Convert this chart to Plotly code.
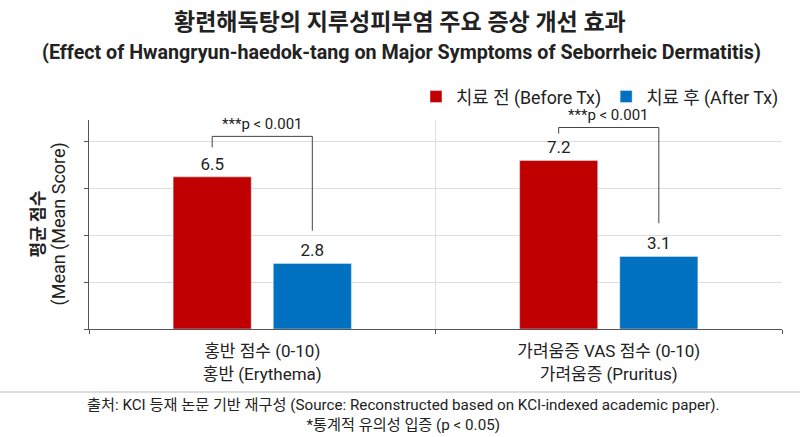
import plotly.graph_objects as go

# 데이터
categories = ["홍반 점수 (0-10)<br>홍반 (Erythema)", "가려움증 VAS 점수 (0-10)<br>가려움증 (Pruritus)"]
before_tx = [6.5, 7.2]
after_tx = [2.8, 3.1]
p_labels = ["***p < 0.001", "***p < 0.001"]
# 괄호 높이 (y축 값)
bracket_top = [8.23, 8.61]
left_leg_end = [7.76, 8.35]
right_leg_end = [4.2, 4.52]

RED = "#C00000"
BLUE = "#0070C0"
TXT = "#222222"
FONT = "Roboto, Noto Sans CJK KR, sans-serif"

W, H = 800, 437
ml, mr, mt, mb = 89, 18, 120, 108
ph = H - mt - mb
pw = W - ml - mr


def px_x(px):
    return (px - ml) / pw


def px_y(px):
    return (H - mb - px) / ph


fig = go.Figure()
fig.add_trace(go.Bar(
    x=categories, y=before_tx, name="치료 전 (Before Tx)",
    marker_color=RED, text=[f"{v:.1f}" for v in before_tx],
    textposition="outside", textfont=dict(size=17, color=TXT), cliponaxis=False
))
fig.add_trace(go.Bar(
    x=categories, y=after_tx, name="치료 후 (After Tx)",
    marker_color=BLUE, text=[f"{v:.1f}" for v in after_tx],
    textposition="outside", textfont=dict(size=17, color=TXT), cliponaxis=False
))

# 유의성 괄호
off = 0.1445
for i in range(len(categories)):
    x0, x1 = i - off, i + off
    top = bracket_top[i]
    for xs, ys in (((x0, x0), (left_leg_end[i], top)),
                   ((x0, x1), (top, top)),
                   ((x1, x1), (right_leg_end[i], top))):
        fig.add_shape(type="line", x0=xs[0], x1=xs[1], y0=ys[0], y1=ys[1],
                      line=dict(color="#444", width=1))
    fig.add_annotation(x=i, y=top, text=p_labels[i], showarrow=False,
                       yanchor="bottom", yshift=1, font=dict(size=15, color=TXT))

# 제목
fig.add_annotation(text="<b>황련해독탕의 지루성피부염 주요 증상 개선 효과</b>",
                   x=px_x(400), y=px_y(22), xref="paper", yref="paper",
                   xanchor="center", yanchor="middle", showarrow=False,
                   font=dict(size=23, color=TXT))
fig.add_annotation(text="<b>(Effect of Hwangryun-haedok-tang on Major Symptoms of Seborrheic Dermatitis)</b>",
                   x=px_x(401), y=px_y(52), xref="paper", yref="paper",
                   xanchor="center", yanchor="middle", showarrow=False,
                   font=dict(size=19.7, color=TXT))

# 출처
fig.add_shape(type="line", xref="paper", yref="paper", x0=px_x(0), x1=px_x(W),
              y0=px_y(392), y1=px_y(392), line=dict(color="#bbbbbb", width=1))
fig.add_annotation(text="출처: KCI 등재 논문 기반 재구성 (Source: Reconstructed based on KCI-indexed academic paper).<br>*통계적 유의성 입증 (p < 0.05)",
                   x=px_x(403), y=px_y(415), xref="paper", yref="paper",
                   xanchor="center", yanchor="middle", showarrow=False,
                   font=dict(size=15.2, color=TXT))

# y축 제목
fig.add_annotation(text="<b>평균 점수</b>", x=px_x(37), y=0.5, xref="paper", yref="paper",
                   xanchor="center", yanchor="middle",
                   textangle=-90, showarrow=False, font=dict(size=17, color=TXT))
fig.add_annotation(text="(Mean (Mean Score)", x=px_x(58), y=0.5, xref="paper", yref="paper",
                   xanchor="center", yanchor="middle",
                   textangle=-90, showarrow=False, font=dict(size=18, color=TXT))

fig.update_layout(
    width=W, height=H,
    margin=dict(l=ml, r=mr, t=mt, b=mb, autoexpand=False),
    paper_bgcolor="white", plot_bgcolor="white",
    font=dict(family=FONT, color=TXT),
    barmode="group", bargap=0.422, bargroupgap=0.22,
    showlegend=True,
    legend=dict(orientation="h", x=px_x(784), xanchor="right", y=px_y(97), yanchor="middle",
                font=dict(size=17.8, color=TXT), itemwidth=30, bgcolor="rgba(0,0,0,0)"),
)
fig.update_xaxes(
    tickson="boundaries", ticks="outside", ticklen=4, tickcolor="#555",
    showgrid=True, gridcolor="#dddddd", showline=True, linecolor="#555",
    tickfont=dict(size=17, color=TXT), ticklabelstandoff=7,
    fixedrange=True, automargin=False
)
fig.update_yaxes(
    range=[0, 8.93], tickvals=[0, 2, 4, 6, 8], showticklabels=False,
    ticks="outside", ticklen=4, tickcolor="#555",
    showgrid=True, gridcolor="#dddddd", showline=True, linecolor="#555",
    zeroline=False, automargin=False, fixedrange=True
)

# 페이지 기본 여백 제거
fig.write_html("out.html", config={"displayModeBar": False},
               post_script="document.body.style.margin='0';")
